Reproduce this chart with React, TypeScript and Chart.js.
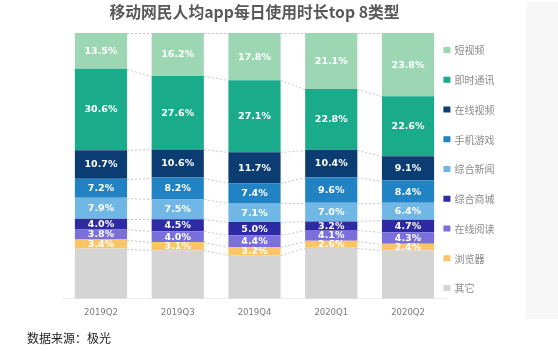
import { useEffect, useRef } from "react";
import { Chart, registerables } from "chart.js";

Chart.register(...registerables);

const categories = ["2019Q2", "2019Q3", "2019Q4", "2020Q1", "2020Q2"];

// series values (%)
const shortVideo = [13.5, 16.2, 17.8, 21.1, 23.8];
const instantMsg = [30.6, 27.6, 27.1, 22.8, 22.6];
const onlineVideo = [10.7, 10.6, 11.7, 10.4, 9.1];
const mobileGame = [7.2, 8.2, 7.4, 9.6, 8.4];
const newsApp = [7.9, 7.5, 7.1, 7.0, 6.4];
const mallApp = [4.0, 4.5, 5.0, 3.2, 4.7];
const readingApp = [3.8, 4.0, 4.4, 4.1, 4.3];
const browserApp = [3.4, 3.1, 3.2, 2.6, 2.4];
const otherApp = [18.9, 18.3, 16.3, 19.2, 18.3];

// legend order (top to bottom)
const seriesNames = ["短视频", "即时通讯", "在线视频", "手机游戏", "综合新闻", "综合商城", "在线阅读", "浏览器", "其它"];
const seriesValues = [shortVideo, instantMsg, onlineVideo, mobileGame, newsApp, mallApp, readingApp, browserApp, otherApp];
const seriesColors = ["#9dd6b3", "#1aab8b", "#0c3d72", "#2183c4", "#70b7e5", "#2d2aa4", "#7a6fdb", "#fdc565", "#d4d4d4"];

const titleText = "移动网民人均app每日使用时长top 8类型";
const sourceText = "数据来源：极光";

const CJK = '"Noto Sans CJK SC", "Noto Sans", sans-serif';

const connectorPlugin = {
  id: "connectors",
  afterDatasetsDraw(chart: any) {
    const ctx = chart.ctx;
    ctx.save();
    ctx.strokeStyle = "#c4c4c4";
    ctx.lineWidth = 1;
    ctx.setLineDash([2, 2]);
    chart.data.datasets.forEach((_ds: any, di: number) => {
      const meta = chart.getDatasetMeta(di);
      for (let i = 0; i < meta.data.length - 1; i++) {
        const a = meta.data[i].getProps(["x", "y", "width"], true);
        const b = meta.data[i + 1].getProps(["x", "y", "width"], true);
        ctx.beginPath();
        ctx.moveTo(a.x + a.width / 2, Math.round(a.y) + 0.5);
        ctx.lineTo(b.x - b.width / 2, Math.round(b.y) + 0.5);
        ctx.stroke();
      }
    });
    ctx.restore();
  },
};

const labelPlugin = {
  id: "barLabels",
  afterDatasetsDraw(chart: any) {
    const ctx = chart.ctx;
    ctx.save();
    ctx.fillStyle = "#ffffff";
    ctx.font = 'bold 9.5px "DejaVu Sans", sans-serif';
    ctx.textAlign = "center";
    ctx.textBaseline = "middle";
    chart.data.datasets.forEach((ds: any, di: number) => {
      if (ds.label === "其它") return;
      const meta = chart.getDatasetMeta(di);
      meta.data.forEach((el: any, i: number) => {
        const p = el.getProps(["x", "y", "base"], true);
        const v = ds.data[i] as number;
        ctx.fillText(v.toFixed(1) + "%", p.x, (p.y + p.base) / 2 + 0.5);
      });
    });
    ctx.restore();
  },
};

const legendPlugin = {
  id: "sideLegend",
  afterDraw(chart: any) {
    const ctx = chart.ctx;
    const area = chart.chartArea;
    const n = chart.data.datasets.length;
    ctx.save();
    ctx.font = `10px ${CJK}`;
    ctx.textBaseline = "middle";
    ctx.textAlign = "left";
    for (let k = 0; k < n; k++) {
      const ds = chart.data.datasets[n - 1 - k];
      const y = 50 + k * 29.75;
      const x = area.right - 3;
      ctx.fillStyle = ds.backgroundColor;
      ctx.fillRect(x, y - 3, 7, 6);
      ctx.fillStyle = "#8a8a8a";
      ctx.fillText(ds.label, x + 11, y + 0.5);
    }
    ctx.restore();
  },
};

export default function App() {
  const ref = useRef<HTMLCanvasElement | null>(null);

  useEffect(() => {
    document.body.style.margin = "0";
    if (!ref.current) return;
    // datasets bottom-up (stack order)
    const datasets = seriesNames
      .map((name, i) => ({
        label: name,
        data: seriesValues[i],
        backgroundColor: seriesColors[i],
        borderWidth: 0,
        categoryPercentage: 1,
        barPercentage: 0.68,
      }))
      .reverse();
    const chart = new Chart(ref.current, {
      type: "bar",
      data: { labels: categories, datasets },
      options: {
        animation: false,
        responsive: false,
        maintainAspectRatio: false,
        layout: { padding: { left: 62.6, right: 69.6, top: 0, bottom: 5 } },
        plugins: {
          legend: { display: false },
          tooltip: { enabled: false },
          title: {
            display: true,
            text: titleText,
            color: "#595959",
            font: { size: 15.8, weight: "bold", family: CJK },
            padding: { top: 3, bottom: 11 },
          },
        },
        scales: {
          x: {
            stacked: true,
            grid: { display: false, drawTicks: false },
            border: { display: true, color: "#ececec", width: 1 },
            ticks: {
              color: "#7a7a7a",
              padding: 9,
              font: { size: 8.5, family: '"DejaVu Sans", sans-serif' },
            },
          },
          y: {
            stacked: true,
            display: false,
            min: 0,
            max: 100,
          },
        },
      },
      plugins: [connectorPlugin, labelPlugin, legendPlugin],
    });
    return () => chart.destroy();
  }, []);

  return (
    <div style={{ position: "absolute", left: 0, top: 0, width: 558, height: 351, background: "#ffffff", overflow: "hidden" }}>
      <div style={{ position: "absolute", left: 526, top: 2, width: 32, height: 317, background: "#f7f7f7" }} />
      <canvas ref={ref} width={516} height={332} style={{ position: "absolute", left: 0, top: 0, width: 516, height: 332 }} />
      <div
        style={{
          position: "absolute",
          left: 27,
          top: 330,
          fontFamily: CJK,
          fontSize: 12,
          color: "#222",
          lineHeight: "16px",
        }}
      >
        {sourceText}
      </div>
    </div>
  );
}
